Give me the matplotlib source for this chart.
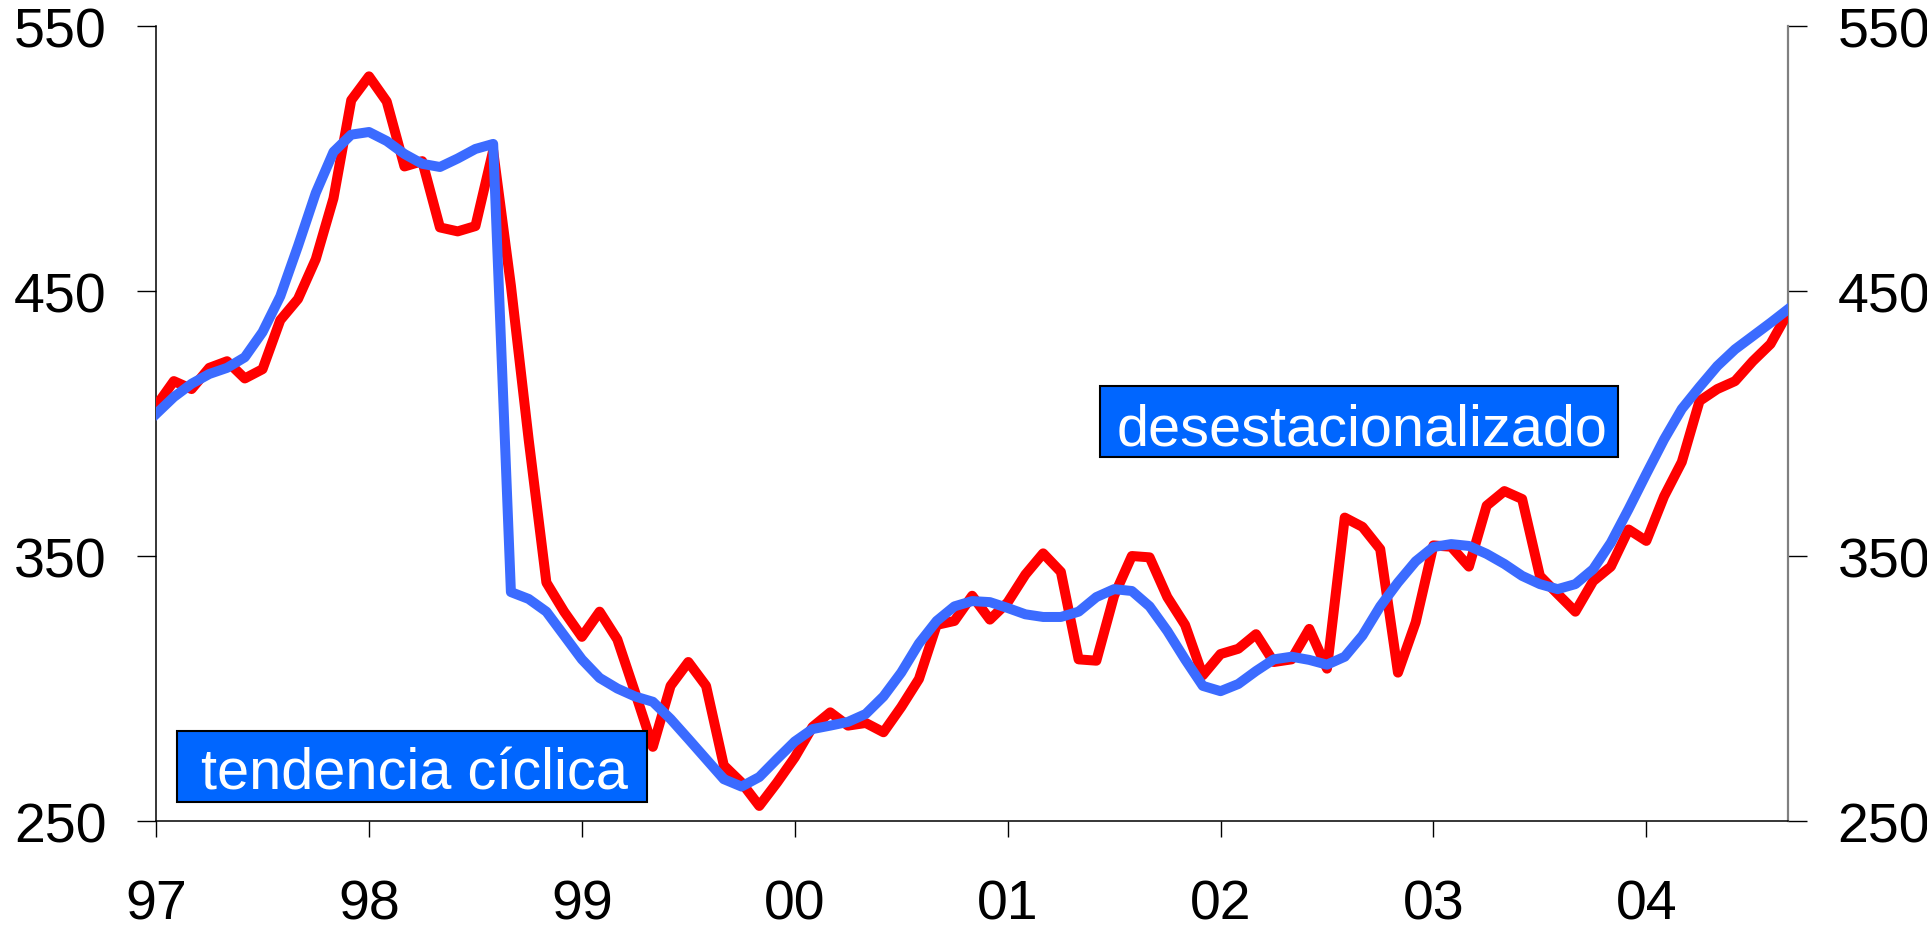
import numpy as np
import matplotlib.pyplot as plt
from matplotlib.patches import Rectangle

plt.rcParams['font.family'] = ['Liberation Sans', 'DejaVu Sans']

# monthly values, Jan 97 .. Sep 04
desest = [406.6, 416, 413, 421, 423.5, 417, 420.5, 439, 447, 462, 485, 522,
          531, 521.5, 497, 499, 474, 472.5, 474.5, 503, 452, 394, 340, 329,
          319.5, 329, 318.5, 298.5, 278, 301, 310, 301, 271, 264.5, 255.7, 264.5,
          274, 285.5, 291, 286, 287, 283.5, 293, 303.6, 324, 325.5, 335, 326,
          332.5, 343, 351, 344, 311, 310.5, 335, 350, 349.5, 334.5, 324, 305,
          313, 315, 320.5, 310, 311, 322.5, 307.5, 364.5, 361, 352.6, 306, 325,
          354, 353.5, 346, 369, 374.5, 371.5, 342.5, 335.7, 329, 340.5, 346, 360,
          355.7, 372.5, 385.5, 408.5, 413, 416, 423.5, 430, 442]
tendencia = [403.6, 410, 415, 418.7, 421, 425, 434.5, 448, 467, 487, 502.5, 509,
             510, 506.6, 501.7, 498, 496.8, 500, 503.6, 505.5, 336.4, 333.8, 329, 320,
             311, 304, 300, 297, 295, 288.5, 281, 273.4, 265.8, 263, 266.6, 273.4,
             280, 284.7, 286, 287.4, 290.4, 297, 306, 317, 325.5, 331, 333, 332.6,
             330.4, 328, 327, 327, 329, 334.5, 337.5, 336.8, 331, 321.7, 311, 301,
             299, 301.7, 306.6, 311, 312, 310.8, 309, 312, 320, 331, 340, 348,
             353.4, 354.5, 353.8, 350.8, 347, 342.5, 339.4, 337.5, 339.4, 345, 355, 367.7,
             381, 394, 405.5, 413.8, 421.7, 428, 433, 438, 443.2]
year_labels = ['97', '98', '99', '00', '01', '02', '03', '04']
y_ticks = [250, 350, 450, 550]

months = np.arange(len(desest))

fig = plt.figure(figsize=(19.27, 9.28), dpi=100)
ax = fig.add_axes([0.081, 0.1142, 0.847, 0.8567])

ax.plot(months, desest, color='#ff0000', lw=7.2, zorder=3)
ax.plot(months, tendencia, color='#3b6bff', lw=7.2, zorder=4)

ax.set_xlim(0, len(desest) - 1)
ax.set_ylim(250, 550)
ax.set_xticks(np.arange(len(year_labels)) * 12)
ax.set_xticklabels(year_labels)
ax.set_yticks(y_ticks)

ax.spines['top'].set_visible(False)
ax.spines['left'].set_linewidth(1.1)
ax.spines['bottom'].set_linewidth(1.1)
ax.spines['right'].set_color('#808080')
ax.spines['right'].set_linewidth(1.6)

ax.tick_params(axis='y', left=True, right=True, labelleft=True, labelright=True,
               length=13.5, width=1, pad=22, labelsize=40)
ax.tick_params(axis='x', length=11.5, width=1, pad=30, labelsize=40)

# label boxes
boxes = [
    ('tendencia cíclica', (0.0129, 0.0239), 0.288, 0.0893, 0.158, 0.0415),
    ('desestacionalizado', (0.5784, 0.4579), 0.3174, 0.0893, 0.7387, 0.4742),
]
for txt, xy, w, h, tx, ty in boxes:
    ax.add_patch(Rectangle(xy, w, h, transform=ax.transAxes, facecolor='#0066ff',
                           edgecolor='black', lw=1.5, zorder=5))
    ax.text(tx, ty, txt, transform=ax.transAxes, ha='center', va='baseline',
            color='white', fontsize=41.5, zorder=6)

fig.savefig('out.png', dpi=100)
